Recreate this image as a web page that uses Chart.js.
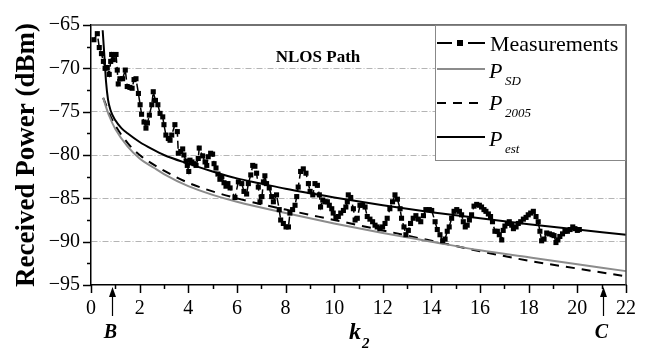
<!DOCTYPE html>
<html>
<head>
<meta charset="utf-8">
<script src="https://cdn.jsdelivr.net/npm/chart.js@4.4.1/dist/chart.umd.min.js"></script>
<style>
  html, body { margin: 0; padding: 0; background: #fff; }
</style>
</head>
<body>
<canvas id="nlosChart" width="662" height="361"></canvas>
<script>
// measured received power along the NLOS path, [k2, dBm]
var measurements = [
    [0.12, -66.7], [0.26, -66.0], [0.34, -67.6], [0.43, -68.3], [0.51, -69.2], [0.58, -70.0],
    [0.67, -69.9], [0.75, -70.7], [0.81, -69.2], [0.85, -68.4], [0.92, -69.0], [1.03, -68.4],
    [1.08, -70.2], [1.12, -71.8], [1.19, -71.2], [1.30, -71.2], [1.41, -70.2], [1.49, -72.1],
    [1.60, -72.2], [1.69, -72.3], [1.77, -71.3], [1.85, -71.2], [1.95, -72.9], [2.02, -74.2],
    [2.08, -75.3], [2.18, -76.2], [2.26, -76.9], [2.32, -76.3], [2.40, -75.4], [2.50, -74.2],
    [2.56, -72.7], [2.65, -73.7], [2.75, -74.2], [2.84, -75.2], [2.95, -75.6], [3.00, -76.5],
    [3.08, -77.7], [3.18, -78.1], [3.25, -78.3], [3.32, -77.7], [3.45, -76.5], [3.55, -77.3],
    [3.59, -79.8], [3.69, -79.6], [3.77, -79.3], [3.82, -80.0], [3.91, -80.7], [3.96, -81.2],
    [4.02, -81.9], [4.07, -80.6], [4.15, -80.8], [4.24, -81.0], [4.32, -81.2], [4.41, -80.4],
    [4.45, -79.2], [4.59, -80.1], [4.69, -80.8], [4.76, -81.2], [4.82, -80.2], [4.92, -79.8],
    [5.00, -79.9], [5.06, -81.0], [5.14, -81.5], [5.22, -82.2], [5.30, -82.8], [5.38, -82.5],
    [5.47, -83.2], [5.55, -83.6], [5.63, -83.3], [5.72, -83.8], [5.92, -84.9], [6.06, -83.1],
    [6.20, -83.3], [6.29, -84.2], [6.40, -84.5], [6.47, -83.3], [6.57, -82.3], [6.65, -81.2],
    [6.74, -81.3], [6.81, -82.1], [6.88, -83.7], [6.95, -85.4], [7.03, -84.8], [7.09, -83.1],
    [7.15, -82.4], [7.22, -83.3], [7.33, -83.8], [7.43, -84.8], [7.50, -85.4], [7.63, -84.6],
    [7.74, -86.3], [7.80, -87.5], [7.91, -87.9], [8.02, -88.3], [8.12, -88.3], [8.18, -86.7],
    [8.29, -86.3], [8.39, -85.8], [8.46, -84.8], [8.52, -83.7], [8.62, -81.9], [8.73, -81.6],
    [8.84, -82.1], [8.94, -83.3], [9.01, -84.2], [9.12, -84.6], [9.21, -83.3], [9.31, -83.5],
    [9.39, -84.6], [9.44, -86.0], [9.53, -85.2], [9.62, -85.4], [9.72, -85.4], [9.80, -85.8],
    [9.90, -86.2], [9.96, -86.7], [10.07, -87.2], [10.17, -87.1], [10.27, -86.7], [10.38, -86.4],
    [10.48, -86.0], [10.54, -85.4], [10.58, -84.6], [10.68, -84.9], [10.79, -86.2], [10.86, -87.5],
    [10.95, -87.3], [11.06, -85.8], [11.17, -85.8], [11.27, -86.0], [11.36, -87.1], [11.47, -87.4],
    [11.58, -87.7], [11.68, -88.1], [11.77, -88.3], [11.88, -88.5], [11.99, -88.3], [12.09, -87.9],
    [12.18, -87.3], [12.29, -86.2], [12.40, -85.4], [12.50, -84.6], [12.60, -85.1], [12.71, -86.2],
    [12.77, -87.3], [12.87, -88.3], [12.95, -89.2], [13.05, -88.7], [13.14, -87.9], [13.25, -87.3],
    [13.36, -87.0], [13.46, -87.4], [13.56, -87.7], [13.67, -87.0], [13.77, -86.3], [13.91, -86.3],
    [14.01, -86.4], [14.15, -87.7], [14.24, -88.6], [14.35, -89.2], [14.46, -89.9], [14.56, -89.7],
    [14.65, -88.8], [14.73, -88.3], [14.83, -87.3], [14.93, -86.5], [15.04, -86.3], [15.15, -86.5],
    [15.24, -86.9], [15.31, -87.7], [15.39, -88.3], [15.47, -88.1], [15.56, -87.5], [15.65, -86.9],
    [15.75, -85.9], [15.86, -85.7], [15.97, -85.8], [16.06, -86.0], [16.16, -86.3], [16.24, -86.5],
    [16.34, -86.8], [16.43, -87.1], [16.51, -87.7], [16.61, -88.8], [16.71, -88.8], [16.79, -89.2],
    [16.89, -89.8], [16.95, -88.7], [17.02, -88.2], [17.12, -87.9], [17.20, -87.7], [17.30, -88.1],
    [17.37, -88.5], [17.48, -88.3], [17.57, -87.9], [17.67, -87.7], [17.78, -87.4], [17.89, -87.2],
    [17.98, -86.9], [18.08, -86.7], [18.19, -86.5], [18.30, -87.1], [18.39, -87.7], [18.46, -88.8],
    [18.53, -89.9], [18.63, -89.7], [18.74, -89.0], [18.85, -89.1], [18.96, -89.2], [19.04, -89.3],
    [19.12, -90.1], [19.20, -89.8], [19.28, -89.4], [19.39, -89.1], [19.49, -88.8], [19.59, -88.8],
    [19.70, -88.6], [19.81, -88.3], [19.90, -88.5], [20.00, -88.7], [20.08, -88.6]
];

// model curves, [k2, dBm]
var pSD = [
    [0.5, -73.4], [0.6, -74.3], [0.75, -75.5], [1.0, -77.0], [1.5, -79.0], [2, -80.4],
    [2.6, -81.5], [3, -82.2], [4, -83.6], [5, -84.6], [6, -85.4], [8, -86.7], [10, -87.9],
    [12, -89.0], [14, -90.0], [16, -91.0], [18, -91.8], [20, -92.6], [22, -93.4]
];
var p2005 = [
    [0.5, -73.4], [0.6, -74.1], [0.75, -75.2], [1.0, -76.6], [1.5, -78.6], [2, -80.0],
    [3, -81.8], [4, -83.2], [5, -84.2], [6, -85.0], [8, -86.3], [10, -87.5], [12, -88.7],
    [14, -89.9], [16, -91.1], [18, -92.2], [20, -93.1], [22, -94.0]
];
var pEst = [
    [0.48, -65.6], [0.56, -69.0], [0.62, -71.6], [0.7, -73.6], [0.8, -74.8], [1.0, -76.0],
    [1.25, -76.9], [1.5, -77.5], [2, -78.5], [2.5, -79.3], [3, -80.0], [4, -81.0], [5, -81.9],
    [6, -82.7], [7, -83.3], [8, -83.9], [10, -84.9], [12, -85.8], [14, -86.6], [16, -87.3],
    [18, -88.0], [20, -88.6], [22, -89.2]
];

// marked positions on the k2 axis
var markers = [[0.86, 'B'], [21.05, 'C']];

var serif = '"Liberation Serif", "Times New Roman", serif';

function toXY(rows) {
    return rows.map(function (r) { return { x: r[0], y: r[1] }; });
}

var decor = {
    id: 'decor',
    beforeDraw: function (chart) {
        var ctx = chart.ctx;
        ctx.save();
        ctx.fillStyle = '#fff';
        ctx.fillRect(0, 0, chart.width, chart.height);
        ctx.restore();
    },
    afterDraw: function (chart) {
        var ctx = chart.ctx, xs = chart.scales.x, ys = chart.scales.y, a = chart.chartArea;
        ctx.save();

        // top and right frame
        ctx.strokeStyle = '#444';
        ctx.lineWidth = 1.5;
        ctx.beginPath();
        ctx.moveTo(a.left, a.top);
        ctx.lineTo(a.right, a.top);
        ctx.lineTo(a.right, a.bottom);
        ctx.stroke();

        // major / minor tick marks
        ctx.strokeStyle = '#000';
        ctx.lineWidth = 1.5;
        xs.ticks.forEach(function (t) {
            var px = Math.round(xs.getPixelForValue(t.value)) + 0.5;
            var len = t.value % 2 === 0 ? 8 : 4;
            ctx.beginPath();
            ctx.moveTo(px, a.bottom);
            ctx.lineTo(px, a.bottom + len);
            ctx.stroke();
        });
        ys.ticks.forEach(function (t) {
            var py = Math.round(ys.getPixelForValue(t.value)) + 0.5;
            var len = t.value % 5 === 0 ? 8 : 4;
            ctx.beginPath();
            ctx.moveTo(a.left - len, py);
            ctx.lineTo(a.left, py);
            ctx.stroke();
        });

        // B / C arrows under the axis
        markers.forEach(function (m) {
            var px = Math.round(xs.getPixelForValue(m[0])) + 0.5;
            ctx.strokeStyle = '#000';
            ctx.lineWidth = 1.2;
            ctx.beginPath();
            ctx.moveTo(px, a.bottom + 31);
            ctx.lineTo(px, a.bottom + 8);
            ctx.stroke();
            ctx.fillStyle = '#000';
            ctx.beginPath();
            ctx.moveTo(px, a.bottom + 2);
            ctx.lineTo(px - 3.5, a.bottom + 12);
            ctx.lineTo(px + 3.5, a.bottom + 12);
            ctx.closePath();
            ctx.fill();
            ctx.font = 'italic bold 20px ' + serif;
            ctx.textAlign = 'center';
            ctx.textBaseline = 'alphabetic';
            ctx.fillText(m[1], px - 2, 338);
        });

        // axis title k2
        ctx.fillStyle = '#000';
        ctx.textAlign = 'left';
        ctx.font = 'italic bold 24px ' + serif;
        ctx.fillText('k', 349, 339);
        ctx.font = 'italic bold 15px ' + serif;
        ctx.fillText('2', 362, 348);

        // path label
        ctx.font = 'bold 17px ' + serif;
        ctx.textAlign = 'center';
        ctx.fillText('NLOS Path', 318, 62);

        // legend box
        var lx = 435, ly = a.top, lw = a.right - 435, lh = 135;
        ctx.fillStyle = '#fff';
        ctx.fillRect(lx, ly, lw, lh);
        ctx.strokeStyle = '#888';
        ctx.lineWidth = 1;
        ctx.strokeRect(lx + 0.5, ly + 0.5, lw - 1, lh);

        var rows = [
            { name: 'Measurements', lineY: 43, base: 51 },
            { name: 'P', sub: 'SD', lineY: 69, base: 78 },
            { name: 'P', sub: '2005', lineY: 103, base: 110 },
            { name: 'P', sub: 'est', lineY: 137, base: 146 }
        ];
        rows.forEach(function (r, i) {
            var ds = chart.data.datasets[i];
            ctx.save();
            ctx.strokeStyle = ds.borderColor;
            ctx.lineWidth = 2;
            ctx.setLineDash(ds.borderDash || []);
            ctx.beginPath();
            if (i === 0) {
                ctx.setLineDash([]);
                ctx.moveTo(437, r.lineY); ctx.lineTo(452, r.lineY);
                ctx.moveTo(468, r.lineY); ctx.lineTo(485, r.lineY);
                ctx.stroke();
                ctx.fillStyle = '#000';
                ctx.fillRect(457, r.lineY - 3, 6, 6);
            } else {
                ctx.moveTo(437, r.lineY); ctx.lineTo(485, r.lineY);
                ctx.stroke();
            }
            ctx.restore();
            ctx.fillStyle = '#000';
            ctx.textAlign = 'left';
            if (r.sub) {
                ctx.font = 'italic 22px ' + serif;
                ctx.fillText(r.name, 489, r.base);
                ctx.font = 'italic 13px ' + serif;
                ctx.fillText(r.sub, 505, r.base + 7);
            } else {
                ctx.font = '22px ' + serif;
                ctx.fillText(r.name, 490, r.base);
            }
        });

        ctx.restore();
    }
};

new Chart(document.getElementById('nlosChart').getContext('2d'), {
    type: 'line',
    data: {
        datasets: [{
            label: 'Measurements',
            data: toXY(measurements),
            borderColor: '#000',
            backgroundColor: '#000',
            borderWidth: 1.5,
            borderDash: [8, 4],
            pointStyle: 'rect',
            pointRadius: 3.6,
            pointBorderWidth: 0,
            tension: 0
        }, {
            label: 'P_SD',
            data: toXY(pSD),
            borderColor: '#8c8c8c',
            borderWidth: 2,
            pointRadius: 0,
            cubicInterpolationMode: 'monotone'
        }, {
            label: 'P_2005',
            data: toXY(p2005),
            borderColor: '#000',
            borderWidth: 2,
            borderDash: [9, 7],
            pointRadius: 0,
            cubicInterpolationMode: 'monotone'
        }, {
            label: 'P_est',
            data: toXY(pEst),
            borderColor: '#000',
            borderWidth: 2,
            pointRadius: 0,
            cubicInterpolationMode: 'monotone'
        }]
    },
    options: {
        responsive: false,
        animation: false,
        clip: false,
        layout: { padding: { left: 0, right: 36, top: 25, bottom: 0 } },
        plugins: { legend: { display: false }, tooltip: { enabled: false } },
        scales: {
            x: {
                type: 'linear',
                min: 0,
                max: 22,
                afterFit: function (s) { s.height = 76; },
                ticks: {
                    stepSize: 1,
                    autoSkip: false,
                    maxRotation: 0,
                    padding: 4,
                    color: '#000',
                    font: { family: serif, size: 20 },
                    callback: function (v) { return v % 2 === 0 ? String(v) : ''; }
                },
                grid: { drawOnChartArea: false, tickLength: 8, tickColor: 'rgba(0,0,0,0)' },
                border: { color: '#000', width: 1.5 }
            },
            y: {
                min: -95,
                max: -65,
                afterFit: function (s) { s.width = 91; },
                ticks: {
                    stepSize: 2.5,
                    autoSkip: false,
                    padding: 3,
                    color: '#000',
                    font: { family: serif, size: 20 },
                    callback: function (v) { return v % 5 === 0 ? '\u2212' + Math.abs(v) : ''; }
                },
                grid: {
                    tickLength: 8,
                    tickColor: 'rgba(0,0,0,0)',
                    lineWidth: 1,
                    color: function (c) {
                        var v = c.tick && c.tick.value;
                        return (v % 5 === 0 && v > -95 && v < -65) ? '#b4b4b4' : 'rgba(0,0,0,0)';
                    }
                },
                border: { color: '#000', width: 1.5, dash: [6, 2, 1, 2] },
                title: {
                    display: true,
                    text: 'Received Power (dBm)',
                    color: '#000',
                    font: { family: serif, size: 27, weight: 'bold' },
                    padding: { top: 11, bottom: 0 }
                }
            }
        }
    },
    plugins: [decor]
});
</script>
</body>
</html>
